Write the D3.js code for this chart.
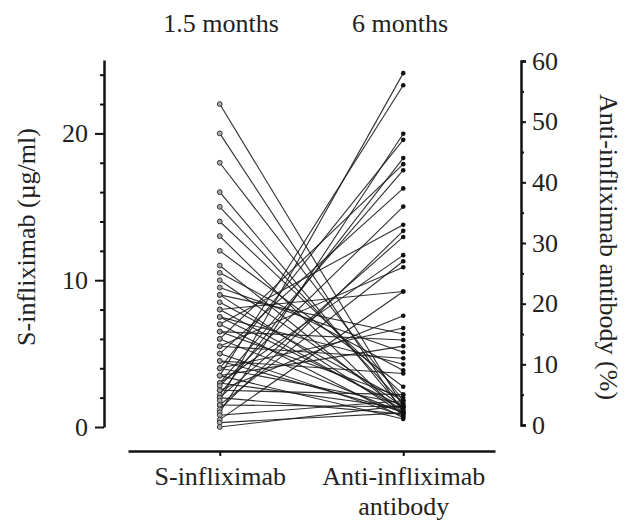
<!DOCTYPE html>
<html>
<head>
<meta charset="utf-8">
<script src="https://cdn.jsdelivr.net/npm/d3@7"></script>
<style>
    body { margin: 0; background: #fff; }
    text { font-family: "Liberation Serif", "Times New Roman", serif; fill: #222; }
    .axis path, .axis line { stroke: #111; }
</style>
</head>
<body>
<div id="chart"></div>
<script>
// Data
const groups = ['S-infliximab', 'Anti-infliximab antibody'];
const timeLabels = ['1.5 months', '6 months'];

// S-infliximab at 1.5 months (µg/ml), one per patient
const sInfliximab = [
    22, 20, 18, 16, 15, 14, 13, 12, 11, 10.5,
    10, 9.5, 9, 9, 8.5, 8, 8, 7.5, 7.5, 7,
    7, 6.5, 6.5, 6, 6, 5.5, 5.5, 5, 5, 4.5,
    4.5, 4, 4, 4, 3.5, 3.5, 3.5, 3, 3, 3,
    2.8, 2.5, 2.5, 2.2, 2, 2, 1.8, 1.5, 1.5, 1.2,
    1, 0.8, 0.5, 0.3, 0
];

// Anti-infliximab antibody at 6 months (%), same patient order
const antibody = [
    3, 2, 4, 2.5, 3.5, 5, 1.5, 6.3, 2, 9,
    3, 12, 1.8, 15, 4, 22, 2.5, 10, 3, 33,
    1.2, 14, 4.5, 43, 2, 26, 11, 1.5, 39, 8.5,
    2.2, 47, 16, 3.5, 56, 13, 1, 42, 28, 2.8,
    36, 18, 5, 44, 31, 1.8, 58, 27, 3, 32,
    48, 4, 22, 2, 3.2
];

const leftMajor = [0, 10, 20];
const leftMinor = [2, 4, 6, 8, 12, 14, 16, 18, 22, 24];
const rightMajor = [0, 10, 20, 30, 40, 50, 60];
const rightMinor = [5, 15, 25, 35, 45, 55];

const patients = sInfliximab.map((s, i) => ({ s: s, ab: antibody[i] }));

// Dimensions
const dimensions = {
    width: 627,
    height: 522,
    axisLeftX: 104,
    axisRightX: 521,
    baseY: 451
};

// Scales
const xScale = d3.scalePoint()
    .domain(groups)
    .range([128, 495])
    .padding(0.5);

const yLeft = d3.scaleLinear()
    .domain([0, 25])
    .range([427, 60]);

const yRight = d3.scaleLinear()
    .domain([0, 60])
    .range([425, 61]);

// Draw Image
const svg = d3.select('#chart')
    .append('svg')
    .attr('width', dimensions.width)
    .attr('height', dimensions.height);

// Lines
svg.append('g')
    .selectAll('line')
    .data(patients)
    .join('line')
    .attr('x1', xScale(groups[0]))
    .attr('y1', d => yLeft(d.s))
    .attr('x2', xScale(groups[1]))
    .attr('y2', d => yRight(d.ab))
    .attr('stroke', '#1a1a1a')
    .attr('stroke-opacity', 0.9)
    .attr('stroke-width', 1.1);

// Points
svg.append('g')
    .selectAll('circle')
    .data(patients)
    .join('circle')
    .attr('cx', xScale(groups[0]))
    .attr('cy', d => yLeft(d.s))
    .attr('r', 2.4)
    .attr('fill', '#aaa')
    .attr('stroke', '#333')
    .attr('stroke-width', 1);

svg.append('g')
    .selectAll('circle')
    .data(patients)
    .join('circle')
    .attr('cx', xScale(groups[1]))
    .attr('cy', d => yRight(d.ab))
    .attr('r', 2.3)
    .attr('fill', '#111');

// Left axis
svg.append('g')
    .attr('class', 'axis')
    .attr('transform', `translate(${dimensions.axisLeftX},0)`)
    .call(d3.axisLeft(yLeft).tickValues(leftMinor).tickSize(4).tickSizeOuter(0).tickFormat(''))
    .call(g => g.select('.domain').attr('stroke-width', 2.5))
    .call(g => g.selectAll('.tick line').attr('stroke-width', 2));

svg.append('g')
    .attr('class', 'axis')
    .attr('transform', `translate(${dimensions.axisLeftX},0)`)
    .call(d3.axisLeft(yLeft).tickValues(leftMajor).tickSize(9).tickSizeOuter(0).tickPadding(7))
    .call(g => g.select('.domain').remove())
    .call(g => g.selectAll('.tick line').attr('stroke-width', 2))
    .call(g => g.selectAll('.tick text').attr('font-size', 26).style('font-family', '"Liberation Serif", serif').attr('fill', '#222'));

// Right axis
svg.append('g')
    .attr('class', 'axis')
    .attr('transform', `translate(${dimensions.axisRightX},0)`)
    .call(d3.axisRight(yRight).tickValues(rightMinor).tickSize(3).tickSizeOuter(0).tickFormat(''))
    .call(g => g.select('.domain').remove())
    .call(g => g.selectAll('.tick line').attr('stroke-width', 2));

svg.append('g')
    .attr('class', 'axis')
    .attr('transform', `translate(${dimensions.axisRightX},0)`)
    .call(d3.axisRight(yRight).tickValues(rightMajor).tickSize(5).tickSizeOuter(5).tickPadding(6))
    .call(g => g.select('.domain').attr('stroke-width', 2.5))
    .call(g => g.selectAll('.tick line').attr('stroke-width', 2))
    .call(g => g.selectAll('.tick text').attr('font-size', 26).style('font-family', '"Liberation Serif", serif').attr('fill', '#222'));

// Bottom axis
const xAxisGroup = svg.append('g')
    .attr('class', 'axis')
    .attr('transform', `translate(0,${dimensions.baseY})`)
    .call(d3.axisBottom(xScale).tickSize(5).tickSizeOuter(0).tickFormat(''))
    .call(g => g.select('.domain').attr('stroke-width', 2.5))
    .call(g => g.selectAll('.tick line').attr('stroke-width', 2));

xAxisGroup.selectAll('.tick')
    .append('text')
    .attr('font-size', 26)
    .attr('text-anchor', 'middle')
    .selectAll('tspan')
    .data(d => d === groups[1] ? ['Anti-infliximab', 'antibody'] : [d])
    .join('tspan')
    .attr('x', 0)
    .attr('y', (d, i) => 34 + i * 30)
    .text(d => d);

// Time labels
svg.append('g')
    .selectAll('text')
    .data(timeLabels)
    .join('text')
    .attr('x', (d, i) => i === 0 ? 221 : 400)
    .attr('y', 32)
    .attr('font-size', 26)
    .attr('text-anchor', 'middle')
    .text(d => d);

// Axis titles
svg.append('text')
    .attr('transform', 'translate(35,237) rotate(-90)')
    .attr('font-size', 26)
    .attr('text-anchor', 'middle')
    .text('S-infliximab (µg/ml)');

svg.append('text')
    .attr('transform', 'translate(600,247) rotate(90)')
    .attr('font-size', 26)
    .attr('text-anchor', 'middle')
    .text('Anti-infliximab antibody (%)');
</script>
</body>
</html>
